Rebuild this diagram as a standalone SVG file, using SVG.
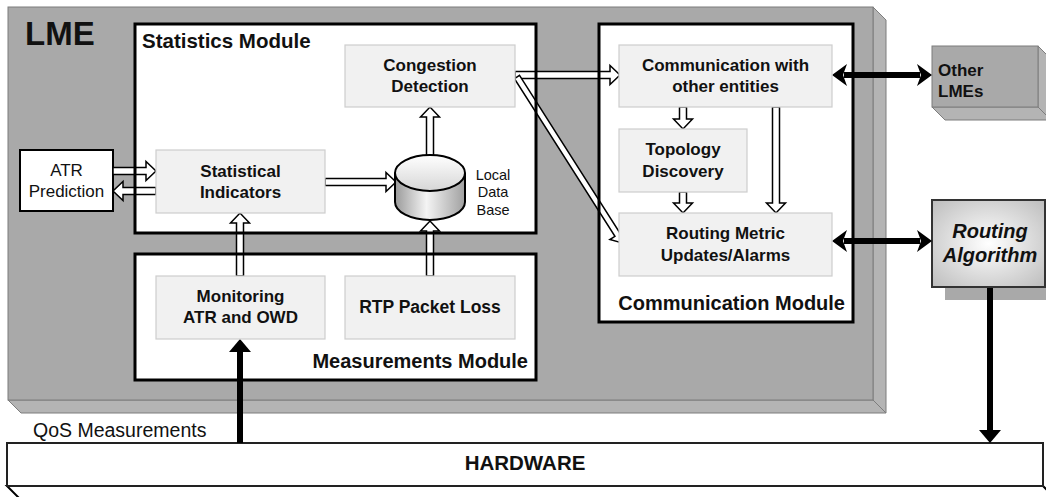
<svg xmlns="http://www.w3.org/2000/svg" width="1046" height="497" viewBox="0 0 1046 497">
<defs>
<style>
.t{font-family:"Liberation Sans",Arial,sans-serif;fill:#111}
.b{font-weight:bold}
.box{fill:#f1f1f1;stroke:#cdcdcd;stroke-width:1.2}
.mod{fill:#fff;stroke:none}
.modb{fill:none;stroke:#000;stroke-width:3}
.face{fill:#a9a9a9;stroke:#7d7d7d;stroke-width:1}
.side{fill:#b4b4b4;stroke:#7d7d7d;stroke-width:1}
.ha{fill:#fff;stroke:#000;stroke-width:1.5;stroke-linejoin:miter}
.bl{stroke:#000;stroke-width:6;fill:none}
.bh{fill:#000}
</style>
<linearGradient id="cylBody" x1="0" y1="0" x2="1" y2="0">
<stop offset="0" stop-color="#9a9a9a"/>
<stop offset="0.45" stop-color="#f4f4f4"/>
<stop offset="1" stop-color="#a0a0a0"/>
</linearGradient>
<linearGradient id="cylTop" x1="0" y1="0" x2="0" y2="1">
<stop offset="0" stop-color="#ffffff"/>
<stop offset="1" stop-color="#d6d6d6"/>
</linearGradient>
<radialGradient id="raGrad" cx="0.5" cy="0.5" r="0.7">
<stop offset="0" stop-color="#ffffff"/>
<stop offset="1" stop-color="#bdbdbd"/>
</radialGradient>
</defs>

<g id="lme">
<polygon class="side" points="873,7 886,20 886,413 873,400"/>
<polygon class="side" points="8,400 873,400 886,413 21,413"/>
<rect class="face" x="8" y="7" width="865" height="393"/>
<text class="t b" x="25" y="45" font-size="33">LME</text>
</g>

<g id="statistics-module">
<rect class="mod" x="135" y="24" width="401" height="209"/>
</g>
<g id="measurements-module">
<rect class="mod" x="135" y="254" width="401" height="126"/>
</g>
<g id="communication-module">
<rect class="mod" x="599" y="24" width="254" height="298"/>
</g>

<g id="hardware">
<polygon points="7,486 1043,486 1056,499 20,499" fill="#fff" stroke="#000" stroke-width="2"/>
<rect x="7" y="443" width="1036" height="43" fill="#fff" stroke="#222" stroke-width="2"/>
<text class="t b" x="525" y="470" font-size="20.5" text-anchor="middle">HARDWARE</text>
</g>

<g id="other-lmes">
<polygon class="side" points="1038,46 1051,59 1051,120 1038,107"/>
<polygon class="side" points="932,107 1038,107 1051,120 945,120"/>
<rect class="face" x="932" y="46" width="106" height="61"/>
<text class="t b" x="938" y="76" font-size="17">Other</text>
<text class="t b" x="938" y="97" font-size="17">LMEs</text>
</g>

<g id="routing-algorithm">
<rect x="945" y="213" width="113" height="87" fill="#a9a9a9"/>
<rect x="932" y="200" width="113" height="87" fill="url(#raGrad)" stroke="#333" stroke-width="2"/>
<text class="t b" x="990" y="238" font-size="20" font-style="italic" text-anchor="middle">Routing</text>
<text class="t b" x="990" y="262" font-size="20" font-style="italic" text-anchor="middle">Algorithm</text>
</g>

<g id="atr-prediction">
<rect x="20" y="150" width="93" height="61" fill="#fff" stroke="#000" stroke-width="2"/>
<text class="t" x="66.5" y="176" font-size="17" text-anchor="middle">ATR</text>
<text class="t" x="66.5" y="197" font-size="17" text-anchor="middle">Prediction</text>
</g>

<g id="qos-label">
<text class="t" x="33" y="437" font-size="19.5">QoS Measurements</text>
</g>

<g id="connectors">
<path class="ha" d="M113,167.5 H146 V161.5 L156,171 L146,180.5 V174.5 H113 Z"/>
<path class="ha" d="M156,187.5 H123 V181.5 L113,191 L123,200.5 V194.5 H156 Z"/>
<path class="ha" d="M325,178.5 H386 V172.5 L396,182 L386,191.5 V185.5 H325 Z"/>
<path class="ha" d="M236.5,276 V223 H230.5 L240,213 L249.5,223 H243.5 V276 Z"/>
<path class="ha" d="M426.5,276 V231 H420.5 L430,221 L439.5,231 H433.5 V276 Z"/>
<path class="ha" d="M426.5,156 V117 H420.5 L430,107 L439.5,117 H433.5 V156 Z"/>
<path class="ha" d="M515,71.5 H610 V65.5 L620,75 L610,84.5 V78.5 H515 Z"/>
<path class="ha" d="M0,-3 H187 V-9 L197,0 L187,9 V3 H0 Z" transform="translate(517,77) rotate(57.5)"/>
<path class="ha" d="M679.5,107 V119 H673.5 L683,129 L692.5,119 H686.5 V107 Z"/>
<path class="ha" d="M679.5,192 V203 H673.5 L683,213 L692.5,203 H686.5 V192 Z"/>
<path class="ha" d="M772.5,107 V203 H766.5 L776,213 L785.5,203 H779.5 V107 Z"/>

<line class="bl" x1="844" y1="75" x2="920" y2="75" stroke-width="5"/>
<polygon class="bh" points="832,75 847,64 843,75 847,86"/>
<polygon class="bh" points="932,75 917,64 921,75 917,86"/>
<line class="bl" x1="844" y1="241" x2="920" y2="241" stroke-width="5"/>
<polygon class="bh" points="832,241 847,230 843,241 847,252"/>
<polygon class="bh" points="932,241 917,230 921,241 917,252"/>

<line class="bl" x1="240" y1="443" x2="240" y2="348"/>
<polygon class="bh" points="240,339 229,352 251,352"/>
<line class="bl" x1="990" y1="288" x2="990" y2="434"/>
<polygon class="bh" points="990,443 979,430 1001,430"/>
</g>

<g id="module-borders">
<rect class="modb" x="135" y="24" width="401" height="209"/>
<rect class="modb" x="135" y="254" width="401" height="126"/>
<rect class="modb" x="599" y="24" width="254" height="298"/>
<text class="t b" x="142" y="48" font-size="20.5">Statistics Module</text>
<text class="t b" x="528" y="368" font-size="20" text-anchor="end">Measurements Module</text>
<text class="t b" x="845" y="310" font-size="20" text-anchor="end">Communication Module</text>
</g>

<g id="statistical-indicators">
<rect class="box" x="156" y="150" width="169" height="63"/>
<text class="t b" x="240.5" y="177" font-size="17" text-anchor="middle">Statistical</text>
<text class="t b" x="240.5" y="198" font-size="17" text-anchor="middle">Indicators</text>
</g>

<g id="congestion-detection">
<rect class="box" x="345" y="45" width="170" height="62"/>
<text class="t b" x="430" y="71" font-size="17" text-anchor="middle">Congestion</text>
<text class="t b" x="430" y="92" font-size="17" text-anchor="middle">Detection</text>
</g>

<g id="local-data-base">
<path d="M395,173 V202 A35,18 0 0 0 465,202 V173" fill="url(#cylBody)" stroke="#000" stroke-width="2"/>
<ellipse cx="430" cy="173" rx="35" ry="18" fill="url(#cylTop)" stroke="#000" stroke-width="2"/>
<text class="t" x="493" y="180" font-size="14.5" text-anchor="middle">Local</text>
<text class="t" x="493" y="197" font-size="14.5" text-anchor="middle">Data</text>
<text class="t" x="493" y="215" font-size="14.5" text-anchor="middle">Base</text>
</g>

<g id="monitoring">
<rect class="box" x="156" y="276" width="169" height="63"/>
<text class="t b" x="240.5" y="302" font-size="17" text-anchor="middle">Monitoring</text>
<text class="t b" x="240.5" y="323" font-size="17" text-anchor="middle">ATR and OWD</text>
</g>

<g id="rtp-packet-loss">
<rect class="box" x="345" y="276" width="170" height="63"/>
<text class="t b" x="430" y="313" font-size="17.5" text-anchor="middle">RTP Packet Loss</text>
</g>

<g id="communication-entities">
<rect class="box" x="619" y="45" width="213" height="62"/>
<text class="t b" x="725.5" y="71" font-size="17" text-anchor="middle">Communication with</text>
<text class="t b" x="725.5" y="92" font-size="17" text-anchor="middle">other entities</text>
</g>

<g id="topology-discovery">
<rect class="box" x="619" y="129" width="128" height="63"/>
<text class="t b" x="683" y="155" font-size="17" text-anchor="middle">Topology</text>
<text class="t b" x="683" y="177" font-size="17" text-anchor="middle">Discovery</text>
</g>

<g id="routing-metric">
<rect class="box" x="619" y="213" width="213" height="63"/>
<text class="t b" x="725.5" y="239" font-size="17" text-anchor="middle">Routing Metric</text>
<text class="t b" x="725.5" y="261" font-size="17" text-anchor="middle">Updates/Alarms</text>
</g>
</svg>
